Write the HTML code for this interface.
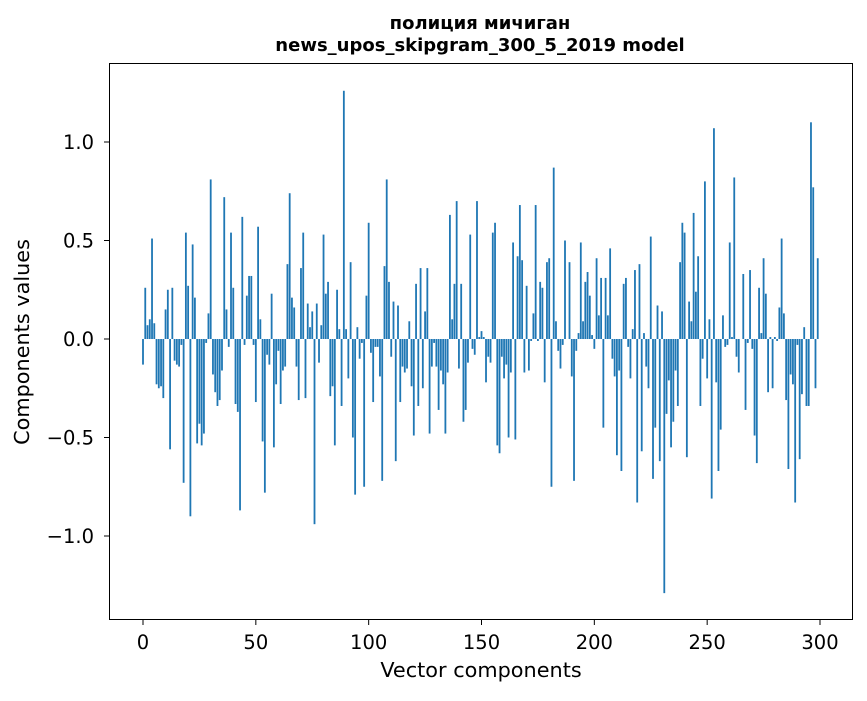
<!DOCTYPE html>
<html><head><meta charset="utf-8"><style>
body{margin:0;background:#fff;}
svg text{font-family:"DejaVu Sans","Liberation Sans",sans-serif;}
</style></head><body>
<svg id="chart" width="867" height="696" xmlns="http://www.w3.org/2000/svg">
<rect x="0" y="0" width="867" height="696" fill="#fff"/>
<text x="480" y="29" text-anchor="middle" font-size="18" font-weight="bold">полиция мичиган</text>
<text x="480" y="51" text-anchor="middle" font-size="18" font-weight="bold">news_upos_skipgram_300_5_2019 model</text>
<g id="bars"></g>
<g id="xticks"></g>
<g id="yticks"></g>
<rect x="109.5" y="63.5" width="743" height="556" fill="none" stroke="#000" stroke-width="1"/>
<text x="481" y="677" text-anchor="middle" font-size="20.8">Vector components</text>
<text x="29" y="342" text-anchor="middle" font-size="20.8" transform="rotate(-90 29 342)">Components values</text>
</svg>
<script>
const values = [-0.13,0.26,0.07,0.10,0.51,0.08,-0.23,-0.25,-0.24,-0.30,0.15,0.25,-0.56,0.26,-0.11,-0.13,-0.14,-0.03,-0.73,0.54,0.27,-0.90,0.48,0.21,-0.53,-0.43,-0.54,-0.48,-0.02,0.13,0.81,-0.18,-0.27,-0.34,-0.31,-0.16,0.72,0.15,-0.04,0.54,0.26,-0.33,-0.37,-0.87,0.62,-0.03,0.22,0.32,0.32,-0.03,
-0.32,0.57,0.10,-0.52,-0.78,-0.08,-0.13,0.23,-0.55,-0.23,-0.06,-0.33,-0.16,-0.14,0.38,0.74,0.21,0.16,-0.14,-0.31,0.36,0.54,-0.30,0.18,0.06,0.14,-0.94,0.18,-0.12,0.07,0.53,0.23,0.29,-0.29,-0.24,-0.54,0.25,0.05,-0.34,1.26,0.05,-0.20,0.39,-0.50,-0.79,0.06,-0.10,-0.02,-0.75,0.22,
0.59,-0.07,-0.32,-0.04,-0.04,-0.19,-0.72,0.37,0.81,0.29,-0.09,0.19,-0.62,0.17,-0.32,-0.14,-0.17,-0.15,0.09,-0.24,-0.49,0.28,-0.34,0.36,-0.25,0.14,0.36,-0.48,-0.14,-0.02,-0.14,-0.36,-0.16,-0.23,-0.48,-0.17,0.63,0.10,0.28,0.70,-0.15,0.28,-0.42,-0.36,-0.12,0.53,-0.05,-0.08,0.70,0.01,
0.04,0.01,-0.22,-0.09,-0.12,0.54,0.59,-0.54,-0.58,-0.09,-0.20,-0.13,-0.50,-0.17,0.49,-0.51,0.42,0.68,0.40,-0.17,0.27,-0.16,-0.01,0.13,0.68,-0.01,0.29,0.26,-0.22,0.39,0.41,-0.75,0.87,0.09,-0.06,-0.15,-0.03,0.50,0.00,0.39,-0.19,-0.72,-0.06,0.03,0.49,0.09,0.29,0.34,0.22,0.02,
-0.05,0.41,0.12,0.31,-0.45,0.31,0.12,0.46,-0.10,-0.19,-0.59,-0.16,-0.67,0.28,0.31,-0.04,-0.20,0.05,0.35,-0.83,0.38,-0.57,0.03,-0.14,-0.25,0.52,-0.71,-0.45,0.17,-0.62,0.14,-1.29,-0.38,-0.21,-0.55,-0.42,-0.16,-0.34,0.39,0.59,0.54,-0.60,0.19,0.09,0.64,0.24,0.42,-0.34,-0.10,0.80,
-0.20,0.10,-0.81,1.07,-0.22,-0.67,-0.46,0.12,-0.04,-0.03,0.49,0.01,0.82,-0.09,-0.17,0.00,0.33,-0.36,-0.02,0.35,-0.05,-0.49,-0.63,0.26,0.03,0.41,0.23,-0.27,0.01,-0.25,0.01,-0.01,0.16,0.51,0.13,-0.31,-0.66,-0.18,-0.23,-0.83,-0.03,-0.61,-0.28,0.06,-0.34,-0.34,1.10,0.77,-0.25,0.41];
const xTickValues = [0,50,100,150,200,250,300];
const yTickValues = [-1.0,-0.5,0.0,0.5,1.0];
const yTickLabels = ["\u22121.0","\u22120.5","0.0","0.5","1.0"];

const NS = "http://www.w3.org/2000/svg";
function xScale(v){ return 143 + v * (820 - 143) / 300; }
function yScale(v){ return 339 - v * 197; }
const barW = 0.8 * (820 - 143) / 300;
const gb = document.getElementById('bars');
values.forEach((v, i) => {
  const r = document.createElementNS(NS, 'rect');
  
  
  const y0 = yScale(0), y1 = yScale(v);
  r.setAttribute('x', xScale(i) - barW / 2);
  r.setAttribute('y', Math.min(y0, y1));
  r.setAttribute('width', barW);
  r.setAttribute('height', Math.max(Math.abs(y1 - y0), 0.01));
  r.setAttribute('fill', '#1f77b4');
  gb.appendChild(r);
});
const gx = document.getElementById('xticks');
xTickValues.forEach(t => {
  const x = xScale(t);
  const l = document.createElementNS(NS, 'line');
  
  
  l.setAttribute('x1', x); l.setAttribute('x2', x);
  l.setAttribute('y1', 620); l.setAttribute('y2', 625);
  l.setAttribute('stroke', '#000');
  gx.appendChild(l);
  const tx = document.createElementNS(NS, 'text');
  
  
  tx.setAttribute('x', x); tx.setAttribute('y', 649);
  tx.setAttribute('text-anchor', 'middle');
  tx.setAttribute('font-size', '19.5');
  tx.textContent = String(t);
  gx.appendChild(tx);
});
const gy = document.getElementById('yticks');
yTickValues.forEach((t, i) => {
  const y = yScale(t);
  const l = document.createElementNS(NS, 'line');
  
  
  l.setAttribute('x1', 104); l.setAttribute('x2', 109);
  l.setAttribute('y1', y); l.setAttribute('y2', y);
  l.setAttribute('stroke', '#000');
  gy.appendChild(l);
  const tx = document.createElementNS(NS, 'text');
  
  
  tx.setAttribute('x', 94); tx.setAttribute('y', y + 7);
  tx.setAttribute('text-anchor', 'end');
  tx.setAttribute('font-size', '19.5');
  tx.textContent = yTickLabels[i];
  gy.appendChild(tx);
});
</script>
</body></html>
